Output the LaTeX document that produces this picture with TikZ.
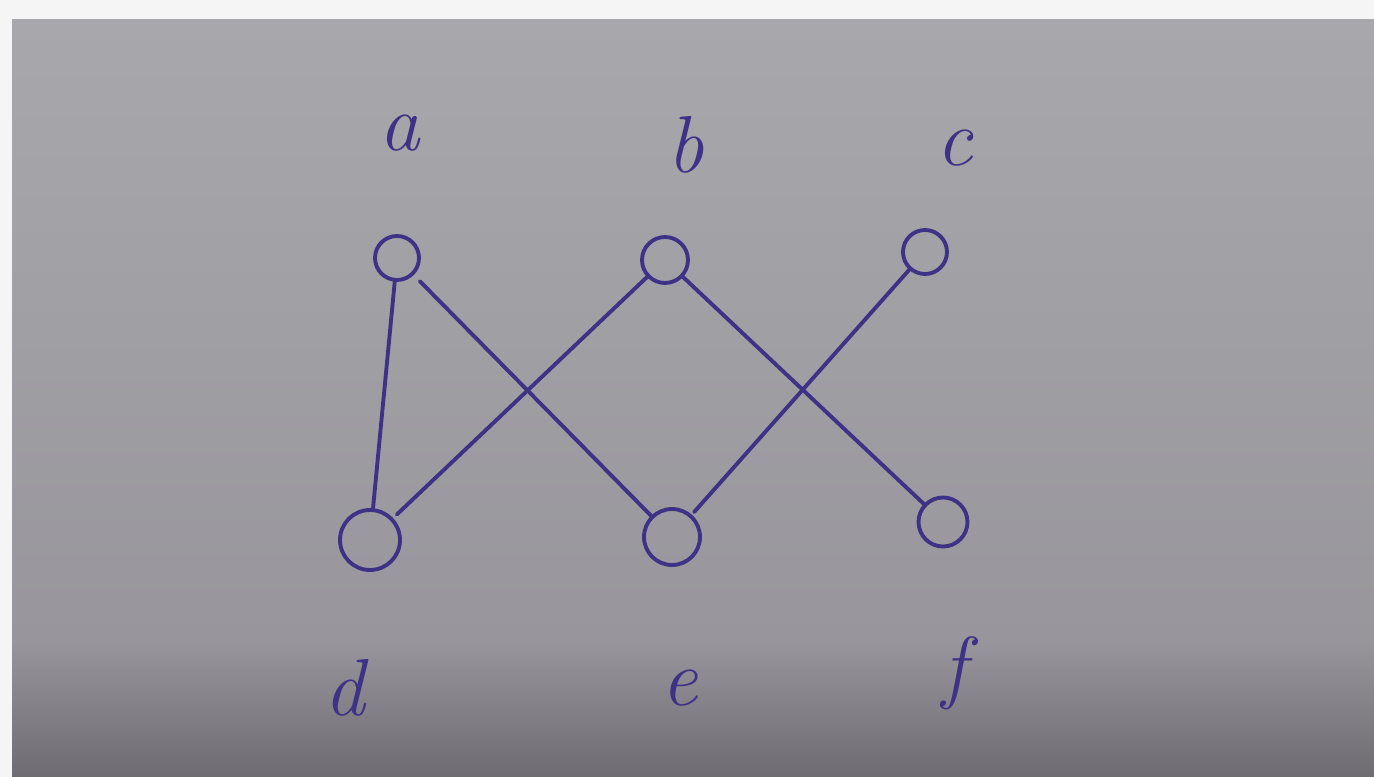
\documentclass[tikz,border=0pt]{standalone}
\usetikzlibrary{calc}
\definecolor{ink}{RGB}{62,50,135}
\definecolor{paperA}{RGB}{168,168,172}
\definecolor{paperB}{RGB}{152,150,156}
\definecolor{paperC}{RGB}{110,108,114}
\definecolor{marg}{RGB}{245,245,245}
\begin{document}
\begin{tikzpicture}[x=0.02cm,y=-0.02cm,
  vtx/.style={circle,draw=ink,line width=2.2pt,inner sep=0pt,outer sep=0pt},
  edge/.style={draw=ink,line width=2.2pt,line cap=round},
  lbl/.style={text=ink,font=\fontsize{46}{50}\selectfont\itshape,inner sep=0pt}]
\useasboundingbox (0,0) rectangle (1374,777);
\fill[marg] (0,0) rectangle (1374,777);
\shade[top color=paperA,bottom color=paperB] (12,20) rectangle (1374,640);
\shade[top color=paperB,bottom color=paperC] (12,640) rectangle (1374,777);
\node[vtx,minimum size=0.88cm] (a) at (397,258) {};
\node[vtx,minimum size=0.92cm] (b) at (665,260) {};
\node[vtx,minimum size=0.88cm] (c) at (925,252) {};
\node[vtx,minimum size=1.2cm] (d) at (370,540) {};
\node[vtx,minimum size=1.12cm] (e) at (672,537) {};
\node[vtx,minimum size=0.98cm] (f) at (943,522) {};
\draw[edge] (a) -- (d);
\draw[edge,shorten <=6pt] (a) -- (e);
\draw[edge,shorten >=4pt] (b) -- (d);
\draw[edge] (b) -- (f);
\draw[edge,shorten >=3pt] (c) -- (e);
\node[lbl] (la) at (400,133) {a};
\node[lbl] (lb) at (686,145) {b};
\node[lbl] (lc) at (955,148) {c};
\node[lbl] (ld) at (345,688) {d};
\node[lbl] (le) at (680,688) {e};
\node[lbl] (lf) at (955,673) {f};
\end{tikzpicture}
\end{document}
